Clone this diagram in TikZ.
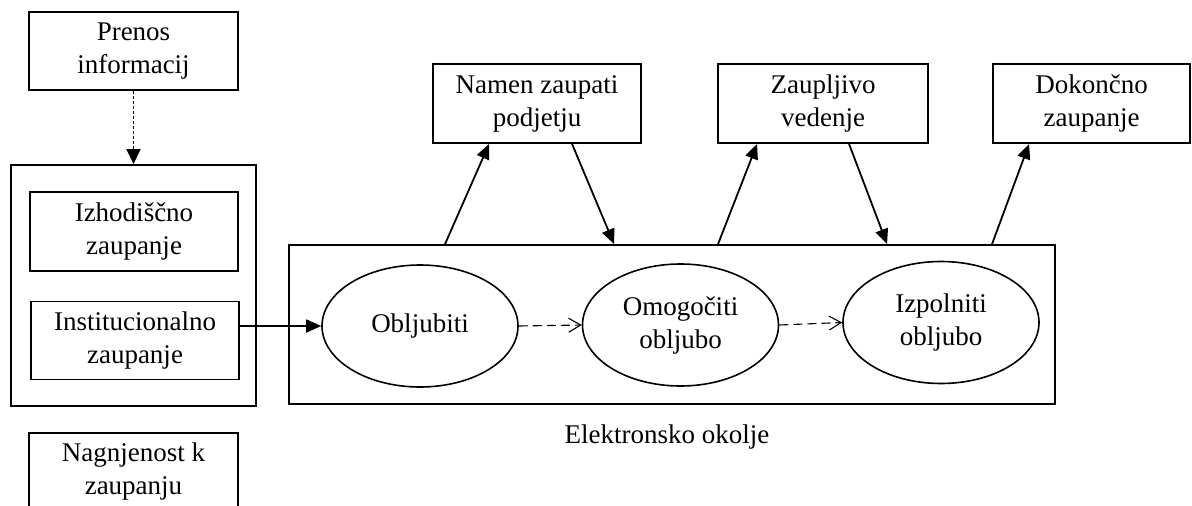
\documentclass[tikz,border=0pt]{standalone}
\usepackage{fontspec}
\setmainfont{Liberation Serif}
\usetikzlibrary{shapes.geometric,arrows.meta,calc}
\begin{document}
\begin{tikzpicture}[x=1pt,y=-1pt,
  every node/.style={font=\fontsize{27}{33}\selectfont},
  box/.style={draw,line width=1.9pt,align=center,inner sep=0pt},
  oval/.style={draw,ellipse,line width=1.6pt,align=center,inner sep=0pt,minimum width=196pt,minimum height=122pt},
  arr/.style={line width=1.8pt,-{Triangle[length=15pt,width=13pt]}},
  dotarr/.style={line width=1.8pt,dash pattern=on 3pt off 2pt,-{Triangle[length=15pt,width=14pt]}},
  dasharr/.style={line width=1.1pt,dash pattern=on 9pt off 5pt,-{Straight Barb[length=12pt,width=14pt,line width=1.1pt]}}]
\useasboundingbox (0,0) rectangle (1192,506);
% left column
\node[box,minimum width=209pt,minimum height=78pt] (prenos) at (133.5,51) {Prenos\\informacij};
\node[box,minimum width=245pt,minimum height=241pt] (outer) at (133.5,285.5) {};
\node[box,minimum width=208pt,minimum height=79pt] (izh) at (134,231.5) {Izhodiščno\\zaupanje};
\node[box,minimum width=208pt,minimum height=78pt] (inst) at (135,340.5) {Institucionalno\\zaupanje};
\node[box,minimum width=209pt,minimum height=78pt] (nag) at (133.5,472) {Nagnjenost k\\zaupanju};
% main environment
\node[box,minimum width=766pt,minimum height=159pt] (main) at (672,324.5) {};
\node[oval] (obl) at (420,326) {Obljubiti};
\node[oval] (omo) at (680.5,325) {Omogočiti\\obljubo};
\node[oval] (izp) at (941,322.5) {Izpolniti\\obljubo};
\node (lab) at (667,437) {Elektronsko okolje};
% top boxes
\node[box,minimum width=208pt,minimum height=79pt] (namen) at (537,103.5) {Namen zaupati\\podjetju};
\node[box,minimum width=210pt,minimum height=79pt] (zaup) at (823,103.5) {Zaupljivo\\vedenje};
\node[box,minimum width=197pt,minimum height=79pt] (dok) at (1091.5,103.5) {Dokončno\\zaupanje};
% connectors
\draw[dotarr] (prenos.south) -- (outer.north);
\draw[arr] (inst.east |- obl.west) -- (obl.west);
\draw[dasharr] (obl.east) -- (omo.west);
\draw[dasharr] (omo.east) -- (izp.west);
\draw[arr] ([xshift=13pt]main.north -| namen.west) -- ([xshift=57pt]namen.south west);
\draw[arr] ([xshift=140pt]namen.south west) -- ([xshift=182pt]main.north -| namen.west);
\draw[arr] ([xshift=1pt]main.north -| zaup.west) -- ([xshift=40pt]zaup.south west);
\draw[arr] ([xshift=132pt]zaup.south west) -- ([xshift=170pt]main.north -| zaup.west);
\draw[arr] ([xshift=0pt]main.north -| dok.west) -- ([xshift=37pt]dok.south west);
\end{tikzpicture}
\end{document}
